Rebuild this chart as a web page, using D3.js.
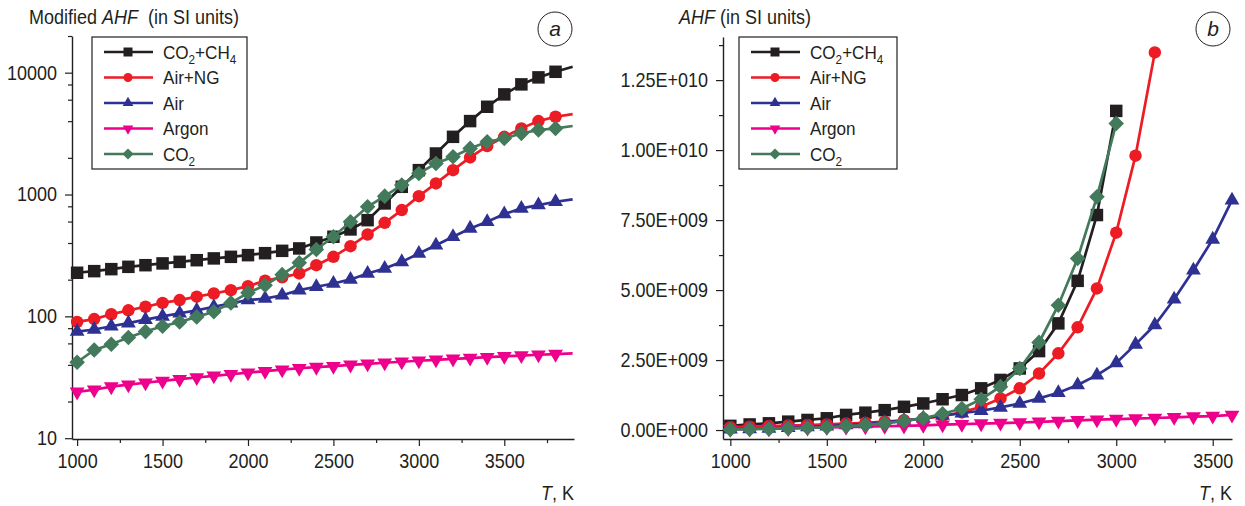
<!DOCTYPE html>
<html>
<head>
<meta charset="utf-8">
<script src="https://cdn.jsdelivr.net/npm/d3@7"></script>
<style>
  body { margin: 0; background: #fff; }
  svg text { font-family: "Liberation Sans", Arial, sans-serif; fill: #231f20; }
</style>
</head>
<body>
<svg width="1245" height="506"></svg>
<script>
// ---- data ----
// panel a: modified AHF, log scale (last value at 3900 K is only the line end)
const tempsA = [1000, 1100, 1200, 1300, 1400, 1500, 1600, 1700, 1800, 1900,
                2000, 2100, 2200, 2300, 2400, 2500, 2600, 2700, 2800, 2900,
                3000, 3100, 3200, 3300, 3400, 3500, 3600, 3700, 3800, 3900];
const aCO2CH4 = [228, 235, 244, 255, 263, 272, 280, 289, 299, 308,
                 318, 330, 345, 361, 404, 450, 517, 616, 845, 1157,
                 1585, 2171, 2975, 4005, 5250, 6633, 8017, 9150, 10170, 11200];
const aAirNG  = [90, 95, 104, 112, 120, 129, 136, 145, 154, 164,
                 177, 196, 209, 225, 263, 308, 377, 470, 586, 745,
                 970, 1233, 1585, 2017, 2496, 2976, 3490, 4006, 4345, 4570];
const aAir    = [75, 78, 83, 88, 94, 100, 106, 112, 120, 128,
                 136, 140, 149, 164, 175, 186, 201, 225, 247, 280,
                 328, 384, 450, 527, 597, 691, 769, 819, 872, 912];
const aArgon  = [24, 25, 26.5, 27.5, 28.5, 29.5, 30.5, 31.5, 32.5, 33.5,
                 34.5, 35.5, 36.5, 37.5, 38.3, 39, 40, 40.8, 41.6, 42.4,
                 43.2, 44, 44.8, 45.5, 46.2, 47, 47.7, 48.4, 49, 49.6];
const aCO2    = [42, 53, 59, 67, 75, 83, 90, 99, 109, 129,
                 156, 180, 220, 275, 354, 450, 597, 793, 970, 1195,
                 1489, 1798, 2041, 2390, 2711, 2885, 3178, 3383, 3490, 3650];
const markerLastT = 3800;

// panel b: AHF, linear scale
const tempsB = [1000, 1100, 1200, 1300, 1400, 1500, 1600, 1700, 1800, 1900,
                2000, 2100, 2200, 2300, 2400, 2500, 2600, 2700, 2800, 2900,
                3000, 3100, 3200, 3300, 3400, 3500, 3600];
const bCO2CH4 = [1.5e8, 2.0e8, 2.4e8, 3.0e8, 3.6e8, 4.2e8, 5.4e8, 6.2e8, 7.1e8, 8.3e8,
                 9.5e8, 1.10e9, 1.25e9, 1.49e9, 1.79e9, 2.20e9, 2.82e9, 3.81e9, 5.33e9, 7.68e9,
                 1.140e10];
const bAirNG  = [1.0e8, 1.2e8, 1.4e8, 1.6e8, 1.8e8, 2.0e8, 2.3e8, 2.6e8, 3.0e8, 3.5e8,
                 4.1e8, 5.0e8, 6.3e8, 8.3e8, 1.13e9, 1.49e9, 2.02e9, 2.74e9, 3.67e9, 5.06e9,
                 7.05e9, 9.80e9, 1.349e10];
const bAir    = [3e7, 4e7, 6e7, 8e7, 1.1e8, 1.4e8, 1.8e8, 2.2e8, 2.8e8, 3.4e8,
                 4.2e8, 5.2e8, 6.0e8, 6.9e8, 8.1e8, 9.5e8, 1.13e9, 1.33e9, 1.61e9, 1.96e9,
                 2.40e9, 3.06e9, 3.75e9, 4.67e9, 5.71e9, 6.81e9, 8.21e9];
const bArgon  = [3e7, 4e7, 5e7, 6e7, 7.5e7, 9e7, 1.05e8, 1.2e8, 1.35e8, 1.5e8,
                 1.7e8, 1.9e8, 2.1e8, 2.3e8, 2.5e8, 2.7e8, 2.95e8, 3.2e8, 3.45e8, 3.7e8,
                 3.9e8, 4.1e8, 4.3e8, 4.55e8, 4.8e8, 5.0e8, 5.4e8];
const bCO2    = [2e7, 3e7, 4e7, 6e7, 8e7, 1.0e8, 1.4e8, 1.8e8, 2.4e8, 3.2e8,
                 4.2e8, 5.8e8, 7.7e8, 1.10e9, 1.55e9, 2.20e9, 3.13e9, 4.46e9, 6.13e9, 8.33e9,
                 1.095e10];

const seriesNames = ["CO2+CH4", "Air+NG", "Air", "Argon", "CO2"];
const seriesColors = ["#231f20", "#ed1c24", "#2e3192", "#ec008c", "#427a5b"];
const seriesShapes = ["square", "circle", "up", "down", "diamond"];

const leftTicks = [10, 100, 1000, 10000];
const rightTicks = [0, 2.5e9, 5e9, 7.5e9, 1e10, 1.25e10];
const xTicks = [1000, 1500, 2000, 2500, 3000, 3500];

const svg = d3.select("svg");
const axisColor = "#231f20";
const narrow = 0.9;   // fake a condensed face by squeezing the text horizontally

function condense(sel) {
  sel.each(function() {
    const t = d3.select(this);
    const x = +t.attr("x") || 0;
    t.attr("x", x / narrow).attr("transform", `scale(${narrow},1)`);
  });
}

// marker shapes, sizes in px
function symbolPath(shape, s) {
  if (shape === "square") return d3.symbol(d3.symbolSquare, s * s)();
  if (shape === "circle") return d3.symbol(d3.symbolCircle, Math.PI * s * s / 4)();
  if (shape === "diamond") return d3.symbol(d3.symbolSquare, s * s * 0.78)();
  return d3.symbol(d3.symbolTriangle, Math.sqrt(3) / 4 * s * s * 1.4)();
}
function symbolRot(shape) {
  if (shape === "down") return 180;
  if (shape === "diamond") return 45;
  return 0;
}

function sci(v) {
  if (v === 0) return "0.00E+000";
  const e = Math.floor(Math.log10(v));
  const m = v / Math.pow(10, e);
  return m.toFixed(2) + "E+" + String(e).padStart(3, "0");
}

function styleAxis(g) {
  g.selectAll("path").attr("stroke", axisColor).attr("stroke-width", 1.4);
  g.selectAll("line").attr("stroke", axisColor).attr("stroke-width", 1.2);
  g.selectAll("text").attr("font-size", 20).style("fill", axisColor).call(condense);
}

function drawPanel(p) {
  const g = svg.append("g");

  // minor ticks first
  g.append("g")
    .attr("transform", `translate(0,${p.y0})`)
    .call(d3.axisBottom(p.x).tickValues(p.xMinor).tickSize(4).tickFormat(""))
    .call(styleAxis).select(".domain").remove();
  g.append("g")
    .attr("transform", `translate(${p.x0},0)`)
    .call(d3.axisLeft(p.y).tickValues(p.yMinor).tickSize(4).tickFormat(""))
    .call(styleAxis).select(".domain").remove();

  g.append("g")
    .attr("transform", `translate(0,${p.y0})`)
    .call(d3.axisBottom(p.x).tickValues(xTicks).tickSize(7).tickSizeOuter(0).tickPadding(8)
      .tickFormat(d3.format("d")))
    .call(styleAxis);
  g.append("g")
    .attr("transform", `translate(${p.x0},0)`)
    .call(d3.axisLeft(p.y).tickValues(p.yTicks).tickSize(7).tickSizeOuter(0).tickPadding(8)
      .tickFormat(p.yFormat))
    .call(styleAxis);

  // axis titles
  const t = g.append("text").attr("x", p.titleX).attr("y", 24).attr("font-size", 20);
  if (p.modified) t.append("tspan").text("Modified ");
  t.append("tspan").attr("font-style", "italic").text("AHF");
  t.append("tspan").text(p.modified ? "\u00a0 (in SI units)" : " (in SI units)");
  t.call(condense);

  const tk = g.append("text").attr("x", p.x.range()[1]).attr("y", 500)
    .attr("text-anchor", "end").attr("font-size", 20);
  tk.append("tspan").attr("font-style", "italic").text("T");
  tk.append("tspan").text(", K");
  tk.call(condense);

  // panel letter
  g.append("circle").attr("cx", p.letterX).attr("cy", 29).attr("r", 17)
    .attr("fill", "none").attr("stroke", axisColor).attr("stroke-width", 1);
  g.append("text").attr("x", p.letterX).attr("y", 36).attr("text-anchor", "middle")
    .attr("font-size", 21).attr("font-style", "italic").text(p.letter);

  // series
  const line = d3.line().x(d => p.x(d.t)).y(d => p.y(d.v));
  p.series.forEach((vals, i) => {
    const pts = vals.map((v, j) => ({ t: p.temps[j], v: v }));
    g.append("path").datum(pts)
      .attr("d", line)
      .attr("fill", "none")
      .attr("stroke", seriesColors[i])
      .attr("stroke-width", 2.7);
    g.selectAll(null)
      .data(pts.filter(d => d.t <= p.markerMax))
      .enter().append("path")
      .attr("d", symbolPath(seriesShapes[i], 12.5))
      .attr("transform", d => `translate(${p.x(d.t)},${p.y(d.v)}) rotate(${symbolRot(seriesShapes[i])})`)
      .attr("fill", seriesColors[i]);
  });

  // legend
  const lg = g.append("g");
  lg.append("rect").attr("x", p.legX).attr("y", 37).attr("width", p.legW).attr("height", 132)
    .attr("fill", "#fff").attr("stroke", axisColor).attr("stroke-width", 1.2);
  seriesNames.forEach((name, i) => {
    const cy = 52 + i * 25.5;
    lg.append("line").attr("x1", p.legX + 12).attr("x2", p.legX + 61)
      .attr("y1", cy).attr("y2", cy)
      .attr("stroke", seriesColors[i]).attr("stroke-width", 2.4);
    lg.append("path")
      .attr("d", symbolPath(seriesShapes[i], 9))
      .attr("transform", `translate(${p.legX + 36},${cy}) rotate(${symbolRot(seriesShapes[i])})`)
      .attr("fill", seriesColors[i]);
    const tx = lg.append("text").attr("x", p.legX + 71).attr("y", cy + 7).attr("font-size", 19);
    if (name === "CO2+CH4") {
      tx.append("tspan").text("CO");
      tx.append("tspan").attr("font-size", 13).attr("dy", 5).text("2");
      tx.append("tspan").attr("dy", -5).text("+CH");
      tx.append("tspan").attr("font-size", 13).attr("dy", 5).text("4");
    } else if (name === "CO2") {
      tx.append("tspan").text("CO");
      tx.append("tspan").attr("font-size", 13).attr("dy", 5).text("2");
    } else {
      tx.text(name);
    }
    tx.call(condense);
  });
}

// panel a
const yMinorA = [];
[10, 100, 1000, 10000].forEach(d => [2, 4, 6, 8].forEach(m => { if (d * m <= 20000) yMinorA.push(d * m); }));
drawPanel({
  x: d3.scaleLinear().domain([970, 3908]).range([72, 574]),
  y: d3.scaleLog().domain([9.85, 20000]).range([439, 36]),
  x0: 72, y0: 439,
  temps: tempsA,
  series: [aCO2CH4, aAirNG, aAir, aArgon, aCO2],
  markerMax: markerLastT,
  yTicks: leftTicks, yMinor: yMinorA, yFormat: d3.format("d"),
  xMinor: [1250, 1750, 2250, 2750, 3250, 3750],
  titleX: 29, modified: true,
  letter: "a", letterX: 555,
  legX: 92, legW: 155
});

// panel b
const yMinorB = [1.25e9, 3.75e9, 6.25e9, 8.75e9, 1.125e10, 1.375e10];
drawPanel({
  x: d3.scaleLinear().domain([962, 3600]).range([723, 1232]),
  y: d3.scaleLinear().domain([-3.2e8, 1.404e10]).range([439, 37]),
  x0: 723, y0: 439,
  temps: tempsB,
  series: [bCO2CH4, bAirNG, bAir, bArgon, bCO2],
  markerMax: 3600,
  yTicks: rightTicks, yMinor: yMinorB, yFormat: sci,
  xMinor: [1250, 1750, 2250, 2750, 3250],
  titleX: 679, modified: false,
  letter: "b", letterX: 1213,
  legX: 739, legW: 158
});
</script>
</body>
</html>
